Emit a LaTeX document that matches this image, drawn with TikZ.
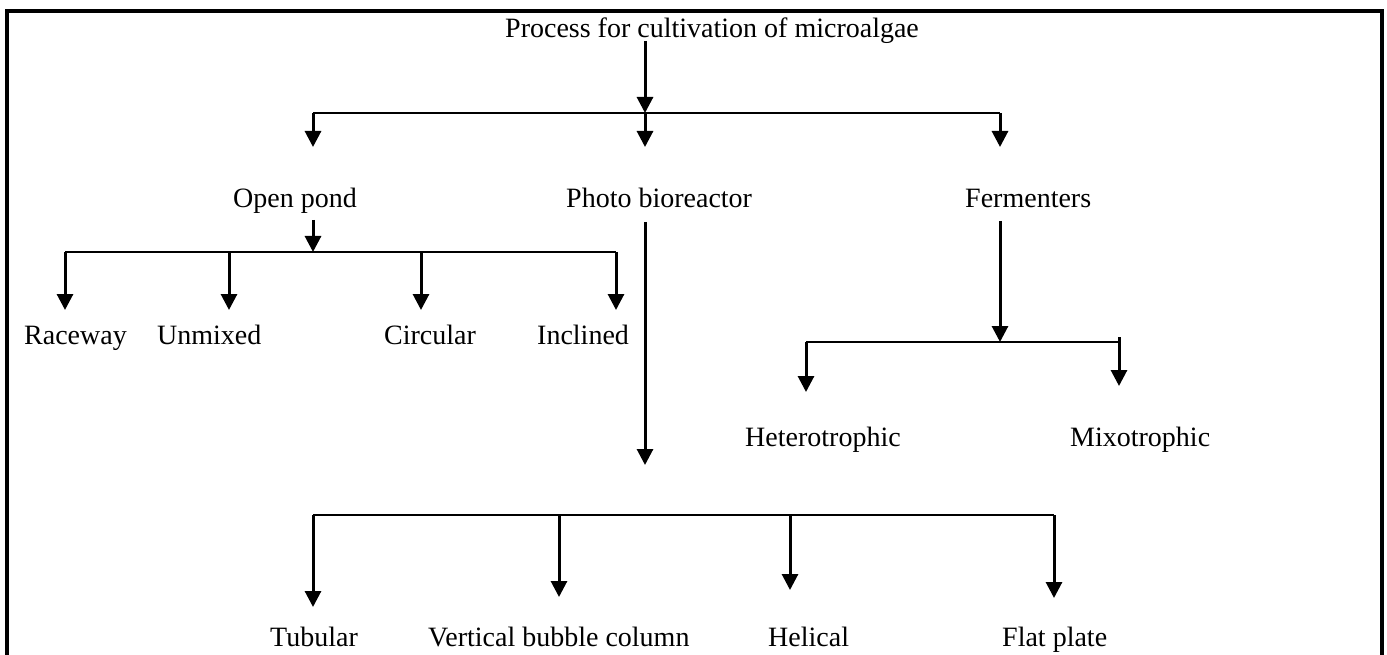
\documentclass[tikz,border=0pt]{standalone}
\usepackage{fontspec}
\setmainfont{Liberation Serif}
\usetikzlibrary{arrows.meta}
\begin{document}
\begin{tikzpicture}[x=1pt,y=-1pt,
  lbl/.style={anchor=base west,inner sep=0pt,font=\fontsize{28}{33}\selectfont},
  arr/.style={line width=3pt,-{Triangle[width=16pt,length=16pt]}},
  bar/.style={line width=2.2pt},
  frame/.style={line width=3.4pt}]
\useasboundingbox (0,0) rectangle (1387,655);
\draw[frame] (7,660) -- (7,11) -- (1382,11) -- (1382,660);
% labels
\node[lbl] (title) at (505,38) {Process for cultivation of microalgae};
\node[lbl] (open) at (233,208) {Open pond};
\node[lbl] (photo) at (566,208) {Photo bioreactor};
\node[lbl] (ferm) at (965,208) {Fermenters};
\node[lbl] (race) at (24,344) {Raceway};
\node[lbl] (unmix) at (157,344) {Unmixed};
\node[lbl] (circ) at (384,344) {Circular};
\node[lbl] (incl) at (537,344) {Inclined};
\node[lbl] (hetero) at (745,446) {Heterotrophic};
\node[lbl] (mixo) at (1070,446) {Mixotrophic};
\node[lbl] (tub) at (270,646) {Tubular};
\node[lbl] (vbc) at (428,646) {Vertical bubble column};
\node[lbl] (hel) at (768,646) {Helical};
\node[lbl] (flat) at (1002,646) {Flat plate};
% coordinates
\coordinate (t0) at (645,41);
\coordinate (j0) at (645,113);
\coordinate (jL) at (313,113);
\coordinate (jR) at (1000,113);
\coordinate (eOpen) at (313,147);
\coordinate (ePhoto) at (645,147);
\coordinate (eFerm) at (1000,147);
% top level
\draw[arr] (t0) -- (j0);
\draw[bar] (jL) -- (jR);
\draw[arr] (jL) -- (eOpen);
\draw[arr] (j0) -- (ePhoto);
\draw[arr] (jR) -- (eFerm);
% open pond
\coordinate (o0) at (313,220);
\coordinate (o1) at (313,252);
\coordinate (oL) at (65,252);
\coordinate (oR) at (616,252);
\coordinate (oU) at (229,252);
\coordinate (oC) at (421,252);
\draw[arr] (o0) -- (o1);
\draw[bar] (oL) -- (oR);
\draw[arr] (oL) -- (65,310) coordinate (eRace);
\draw[arr] (oU) -- (229,310) coordinate (eUnmix);
\draw[arr] (oC) -- (421,310) coordinate (eCirc);
\draw[arr] (oR) -- (616,310) coordinate (eIncl);
% photo bioreactor
\coordinate (p0) at (645,222);
\coordinate (p1) at (645,465);
\draw[arr] (p0) -- (p1);
\coordinate (pL) at (313,515);
\coordinate (pR) at (1054,515);
\coordinate (pV) at (559,515);
\coordinate (pH) at (790,515);
\draw[bar] (pL) -- (pR);
\draw[arr] (pL) -- (313,607) coordinate (eTub);
\draw[arr] (pV) -- (559,597) coordinate (eVbc);
\draw[arr] (pH) -- (790,590) coordinate (eHel);
\draw[arr] (pR) -- (1054,598) coordinate (eFlat);
% fermenters
\coordinate (f0) at (1000,221);
\coordinate (f1) at (1000,342);
\coordinate (fL) at (806,342);
\coordinate (fR) at (1119,342);
\draw[arr] (f0) -- (f1);
\draw[bar] (fL) -- (fR);
\draw[arr] (fL) -- (806,392) coordinate (eHet);
\draw[arr] (1119,337) coordinate (fR2) -- (1119,386) coordinate (eMix);
\end{tikzpicture}
\end{document}
